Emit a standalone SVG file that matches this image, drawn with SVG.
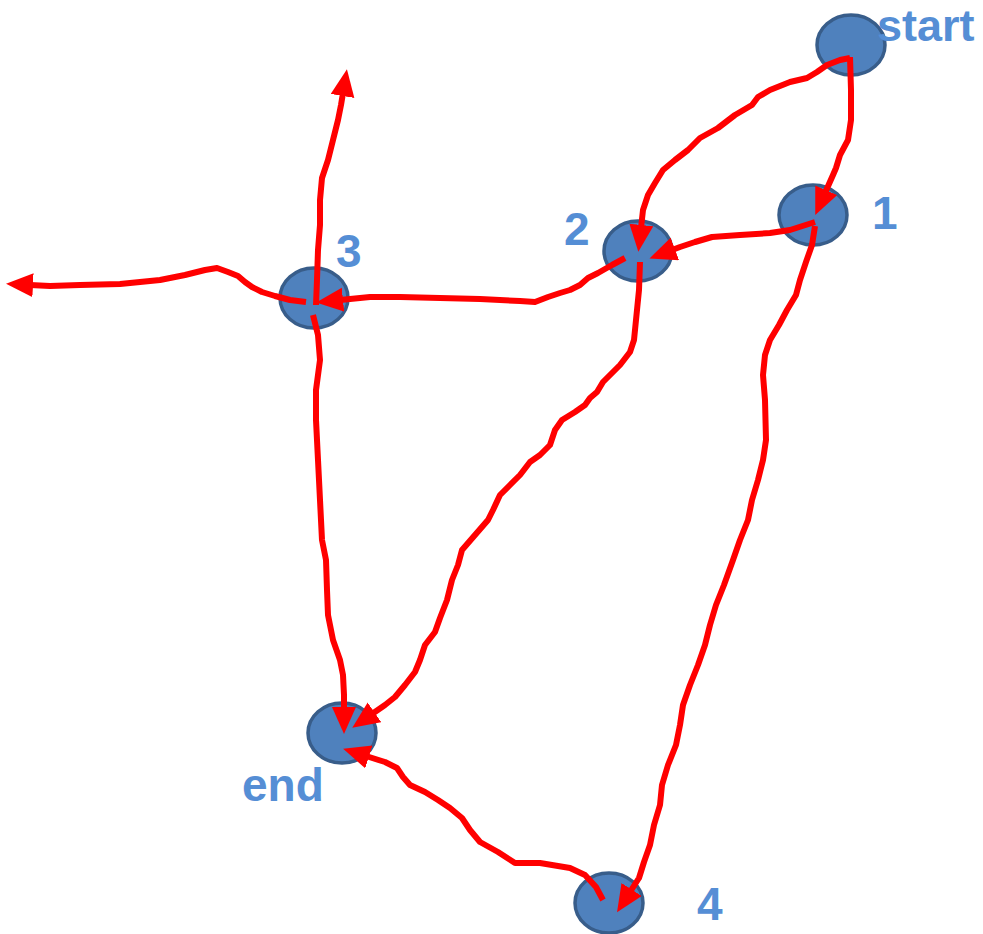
<svg xmlns="http://www.w3.org/2000/svg" width="983" height="934" viewBox="0 0 983 934">
<defs>
<style>
.node ellipse{fill:#4F81BD;stroke:#385D8A;stroke-width:3.5}
.lbl{font-family:"Liberation Sans",Arial,sans-serif;font-weight:bold;font-size:46px;fill:#558ED5}
.edge{fill:none;stroke:#FF0000;stroke-width:6;stroke-linejoin:round;stroke-linecap:butt;marker-end:url(#ah)}
</style>
<marker id="ah" markerUnits="userSpaceOnUse" markerWidth="30" markerHeight="26" refX="3" refY="12" orient="auto">
<path d="M0,0 L27,12 L0,24 z" fill="#FF0000"/>
</marker>
</defs>
<rect width="983" height="934" fill="#FFFFFF"/>
<g id="node-start" class="node"><ellipse cx="851" cy="45" rx="34" ry="30"/><text class="lbl" x="877" y="41" style="font-size:45px">start</text></g>
<g id="node-1" class="node"><ellipse cx="813" cy="215" rx="34" ry="30"/><text class="lbl" x="872" y="229">1</text></g>
<g id="node-2" class="node"><ellipse cx="638" cy="251" rx="34" ry="30"/><text class="lbl" x="564" y="245">2</text></g>
<g id="node-3" class="node"><ellipse cx="314" cy="298" rx="34" ry="30"/><text class="lbl" x="336" y="267">3</text></g>
<g id="node-end" class="node"><ellipse cx="342" cy="733" rx="34" ry="30"/><text class="lbl" x="242" y="801">end</text></g>
<g id="node-4" class="node"><ellipse cx="609" cy="903" rx="34" ry="30"/><text class="lbl" x="697" y="920">4</text></g>
<g id="connectors">
<polyline class="edge" points="850,58 840,60 827,65 817,72 807,78 790,82 770,90 758,97 752,105 735,115 718,128 700,138 688,150 675,160 663,170 655,183 648,195 643,210 641,228"/>
<polyline class="edge" points="850,57 851,90 851,120 848,140 840,155 836,168 833,175 825,193"/>
<polyline class="edge" points="815,222 790,230 770,233 740,235 712,237 695,242 680,247 672,250"/>
<polyline class="edge" points="625,258 612,265 598,273 588,278 580,285 570,290 560,293 548,297 535,302 520,301 480,299 440,298 400,297 370,297 340,300"/>
<polyline class="edge" points="815,226 812,245 806,262 800,280 796,295 787,310 779,325 770,340 765,355 763,375 765,400 766,440 763,460 758,480 752,500 748,520 740,540 733,560 724,585 716,605 710,625 705,645 698,665 690,685 683,705 680,725 676,745 668,765 662,785 660,805 654,825 650,845 644,862 639,878 630,892"/>
<polyline class="edge" points="640,262 639,290 636,320 634,340 630,352 620,365 610,375 603,382 597,392 590,398 585,405 575,412 562,420 555,430 550,445 540,455 530,462 520,475 510,485 500,495 493,510 488,520 475,535 462,550 458,565 452,580 447,600 440,618 435,632 425,645 420,660 415,672 405,685 395,697 385,705 372,714"/>
<polyline class="edge" points="313,315 318,335 320,360 316,390 316,420 318,460 320,500 322,540 326,560 327,590 328,615 333,640 340,660 343,675 344,695 344,710"/>
<polyline class="edge" points="603,900 596,887 585,875 570,868 540,863 515,863 498,852 480,842 470,830 462,818 450,808 438,800 425,792 410,785 403,777 397,768 385,762 366,756"/>
<polyline class="edge" points="316,305 317,280 318,250 320,225 320,200 322,178 328,160 333,140 338,120 341,105 343,93"/>
<polyline class="edge" points="306,302 290,300 275,296 262,292 252,287 245,282 238,276 228,272 217,268 205,270 185,275 160,280 120,284 80,285 50,286 30,285"/>
</g>
</svg>
